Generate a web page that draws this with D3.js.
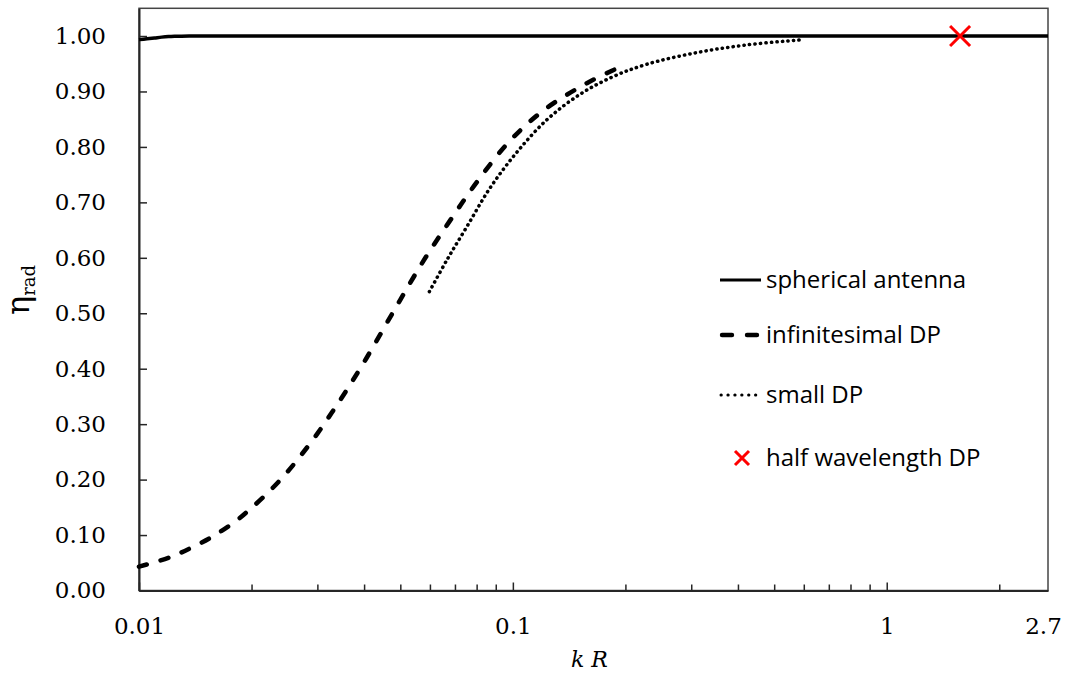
<!DOCTYPE html>
<html>
<head>
<meta charset="utf-8">
<script src="https://cdn.jsdelivr.net/npm/d3@7"></script>
<style>
  html, body { margin: 0; padding: 0; background: #fff; }
  svg { display: block; }
</style>
</head>
<body>
<svg id="chart" width="1067" height="675"></svg>
<script>
// ---- data ----
const sphericalKR  = [0.01, 0.0105, 0.011, 0.0115, 0.012, 0.0125, 0.013, 0.014, 0.015, 0.02, 0.05, 0.1, 0.5, 1, 2, 2.7];
const sphericalEta = [0.9935, 0.995, 0.9965, 0.998, 0.999, 0.9995, 0.9998, 1, 1, 1, 1, 1, 1, 1, 1, 1];

const infinitesimalKR  = [0.01, 0.0121, 0.0137, 0.0157, 0.0183, 0.02, 0.0224, 0.0248, 0.0272, 0.03, 0.0328, 0.0359, 0.0405, 0.0484, 0.0576, 0.0679, 0.08, 0.0973, 0.1208, 0.1577, 0.1877];
const infinitesimalEta = [0.043, 0.060, 0.076, 0.097, 0.127, 0.149, 0.180, 0.212, 0.245, 0.283, 0.321, 0.361, 0.418, 0.508, 0.594, 0.667, 0.736, 0.808, 0.866, 0.915, 0.940];

const smallKR  = [0.0598, 0.0666, 0.0753, 0.0869, 0.1024, 0.1233, 0.1513, 0.1857, 0.228, 0.310, 0.422, 0.587];
const smallEta = [0.539, 0.596, 0.656, 0.726, 0.790, 0.849, 0.895, 0.927, 0.949, 0.970, 0.984, 0.993];

const halfWaveKR  = [1.571];
const halfWaveEta = [1.0];

const xTickValues = [0.01, 0.1, 1, 2.7];
const xTickLabels = ["0.01", "0.1", "1", "2.7"];
const xMinorTicks = [0.02,0.03,0.04,0.05,0.06,0.07,0.08,0.09,0.2,0.3,0.4,0.5,0.6,0.7,0.8,0.9,2];
const yTickValues = [0,0.1,0.2,0.3,0.4,0.5,0.6,0.7,0.8,0.9,1.0];

const legendLabels = ["spherical antenna", "infinitesimal DP", "small DP", "half wavelength DP"];

// ---- layout ----
const W = 1067, H = 675;
const m = {left: 139, right: 19, top: 8.3, bottom: 84.5};
const iw = W - m.left - m.right, ih = H - m.top - m.bottom;

const svg = d3.select("#chart");
const g = svg.append("g").attr("transform", `translate(${m.left},${m.top})`);

const x = d3.scaleLog().domain([0.01, 2.7]).range([0, iw]);
const y = d3.scaleLinear().domain([0, 1.05]).range([ih, 0]);

const serif = "'DejaVu Serif', serif";
const sans = "'Open Sans', sans-serif";
const axisColor = "#262626";

// frame
g.append("rect").attr("x", 0).attr("y", 0).attr("width", iw).attr("height", ih)
  .attr("fill", "none").attr("stroke", "#444").attr("stroke-width", 1.5);

// y axis
const yAxis = g.append("g").call(d3.axisLeft(y).tickValues(yTickValues).tickFormat(d3.format(".2f")).tickSizeInner(-8).tickSizeOuter(0).tickPadding(33));
yAxis.select(".domain").attr("stroke", axisColor).attr("stroke-width", 2);
yAxis.selectAll(".tick line").attr("stroke", axisColor).attr("stroke-width", 1.5);
yAxis.selectAll(".tick text").attr("font-family", serif).attr("font-size", 23).attr("fill", "#000");

// x axis
const xAxis = g.append("g").attr("transform", `translate(0,${ih})`)
  .call(d3.axisBottom(x).tickValues(xTickValues).tickFormat((d, i) => xTickLabels[i]).tickSizeInner(-8).tickSizeOuter(0).tickPadding(27));
xAxis.select(".domain").attr("stroke", axisColor).attr("stroke-width", 2);
xAxis.selectAll(".tick line").attr("stroke", axisColor).attr("stroke-width", 1.5);
xAxis.selectAll(".tick text").attr("font-family", serif).attr("font-size", 23).attr("fill", "#000")
  .attr("dx", (d) => d === 2.7 ? -5 : 0);
xAxis.selectAll(".tick").filter(d => d === 2.7).select("line").remove();

const xMinor = g.append("g").attr("transform", `translate(0,${ih})`)
  .call(d3.axisBottom(x).tickValues(xMinorTicks).tickFormat("").tickSizeInner(-6).tickSizeOuter(0));
xMinor.select(".domain").remove();
xMinor.selectAll(".tick line").attr("stroke", axisColor).attr("stroke-width", 1.5);

// axis titles
g.append("text").attr("x", iw / 2 - 4).attr("y", ih + 77)
  .attr("text-anchor", "middle").attr("font-family", serif).attr("font-style", "italic").attr("font-size", 22)
  .text("k R");

const yt = svg.append("text").attr("transform", `translate(29,290) rotate(-90)`)
  .attr("text-anchor", "middle").attr("font-family", serif);
yt.append("tspan").attr("font-size", 32).text("η");
yt.append("tspan").attr("font-size", 18).attr("dy", 6).text("rad");

// lines
const line = d3.line().x(d => x(d[0])).y(d => y(d[1])).curve(d3.curveCatmullRom.alpha(0.5));
const zipped = (a, b) => a.map((v, i) => [v, b[i]]);

const seriesStyles = [
  {data: zipped(sphericalKR, sphericalEta), width: 3.5, dash: null, cap: "butt"},
  {data: zipped(infinitesimalKR, infinitesimalEta), width: 4.6, dash: "8,14.5", cap: "round"},
  {data: zipped(smallKR, smallEta), width: 3.5, dash: "0.3,5.2", cap: "round"}
];
seriesStyles.forEach(s => {
  g.append("path").attr("d", line(s.data)).attr("fill", "none").attr("stroke", "#000")
    .attr("stroke-width", s.width).attr("stroke-dasharray", s.dash).attr("stroke-linecap", s.cap);
});

// red X marker
const xSize = 10;
halfWaveKR.forEach((k, i) => {
  const cx = x(k), cy = y(halfWaveEta[i]);
  g.append("path").attr("d", `M${cx - xSize},${cy - xSize}L${cx + xSize},${cy + xSize}M${cx - xSize},${cy + xSize}L${cx + xSize},${cy - xSize}`)
    .attr("stroke", "#ff0000").attr("stroke-width", 3).attr("fill", "none");
});

// legend
const legY = [280, 335, 395, 458];
const lx0 = 720, lx1 = 761;
const leg = svg.append("g");
leg.append("line").attr("x1", lx0).attr("x2", lx1).attr("y1", legY[0]).attr("y2", legY[0])
  .attr("stroke", "#000").attr("stroke-width", 3);
leg.append("line").attr("x1", lx0 + 2).attr("x2", lx1 - 2).attr("y1", legY[1]).attr("y2", legY[1])
  .attr("stroke", "#000").attr("stroke-width", 4.4).attr("stroke-dasharray", "10,15").attr("stroke-linecap", "round");
leg.append("line").attr("x1", lx0 + 1).attr("x2", lx1).attr("y1", legY[2]).attr("y2", legY[2])
  .attr("stroke", "#000").attr("stroke-width", 3).attr("stroke-dasharray", "0.3,6.6").attr("stroke-linecap", "round");
const mx = 742, my = legY[3], ms = 7;
leg.append("path").attr("d", `M${mx - ms},${my - ms}L${mx + ms},${my + ms}M${mx - ms},${my + ms}L${mx + ms},${my - ms}`)
  .attr("stroke", "#ff0000").attr("stroke-width", 3);
legendLabels.forEach((t, i) => {
  leg.append("text").attr("x", 766).attr("y", legY[i] + 7.5).attr("font-family", sans).attr("font-size", 24)
    .attr("fill", "#000").text(t);
});
</script>
</body>
</html>
